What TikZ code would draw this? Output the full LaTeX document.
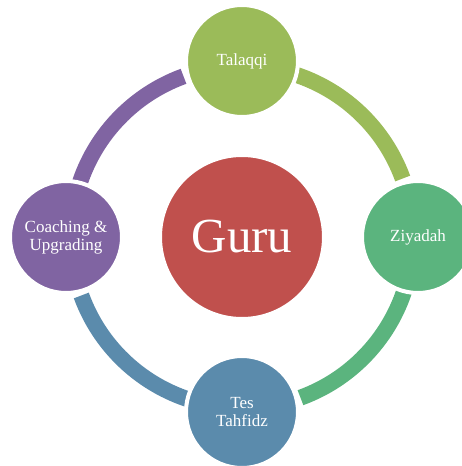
\documentclass[tikz,border=0pt]{standalone}
\usepackage{fontspec}
\setmainfont{Liberation Serif}

\definecolor{guruRed}{HTML}{C0504D}
\definecolor{talaqqiGreen}{HTML}{9BBB59}
\definecolor{ziyadahGreen}{HTML}{5BB47E}
\definecolor{tesBlue}{HTML}{5B8BAC}
\definecolor{coachPurple}{HTML}{8064A2}

\tikzset{
  stage/.style={circle,draw=white,line width=4pt,minimum size=112pt,
    text=white,align=center,font=\fontsize{17}{18}\selectfont},
  ringarc/.style={line width=16pt}
}

\begin{document}
\begin{tikzpicture}[x=1pt,y=1pt]
\useasboundingbox (-242,-229) rectangle (220,237);
\clip (-242,-229) rectangle (220,237);

\node[circle,fill=guruRed,draw=white,line width=2pt,minimum size=162pt,
  text=white,font=\fontsize{49}{51}\selectfont] (guru) at (0,0) {Guru};

% ring pieces, each starts under its own circle
\draw[ringarc,talaqqiGreen] ([shift={(80:171)}]guru.center) arc[start angle=80,end angle=20,radius=171];
\draw[ringarc,ziyadahGreen] ([shift={(-10:171)}]guru.center) arc[start angle=-10,end angle=-70,radius=171];
\draw[ringarc,tesBlue] ([shift={(-100:171)}]guru.center) arc[start angle=-100,end angle=-160,radius=171];
\draw[ringarc,coachPurple] ([shift={(170:171)}]guru.center) arc[start angle=170,end angle=110,radius=171];

\node[stage,fill=talaqqiGreen] (talaqqi) at (0,176) {Talaqqi};
\node[stage,fill=ziyadahGreen] (ziyadah) at (176,0) {Ziyadah};
\node[stage,fill=tesBlue] (tes) at (0,-175) {Tes\\Tahfidz};
\node[stage,fill=coachPurple] (coaching) at (-176,0) {Coaching \&\\Upgrading};
\end{tikzpicture}
\end{document}
